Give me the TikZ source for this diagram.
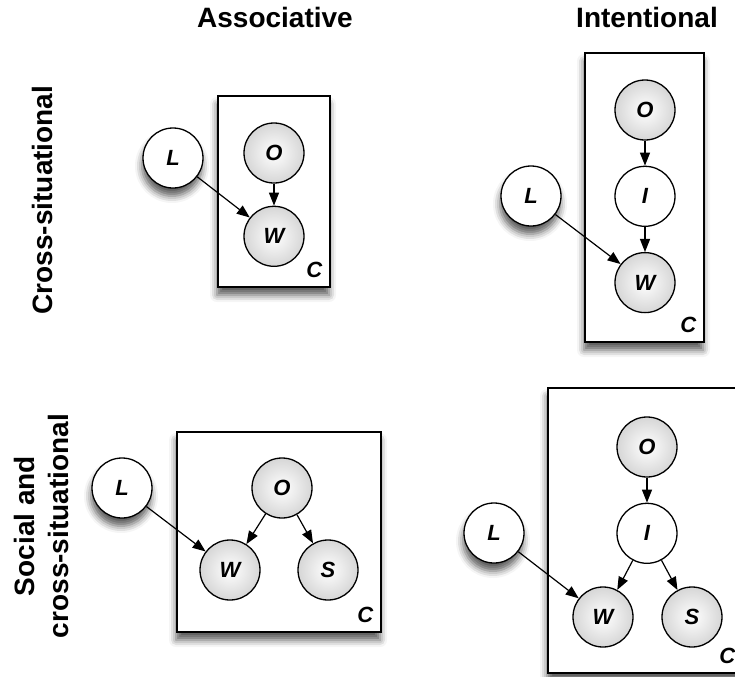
\documentclass[tikz,border=0pt]{standalone}
\usepackage{fontspec}
\setmainfont{Liberation Sans}
\usetikzlibrary{arrows.meta,positioning,shadows.blur}
\definecolor{cObs}{gray}{0.84}
\tikzset{
  node distance=12.5pt,
  shd/.style    ={blur shadow={shadow xshift=-0.5pt, shadow yshift=-4pt,
                  shadow blur radius=3.5pt, shadow opacity=65}},
  obs/.style    ={circle, draw=black, line width=0.65pt, minimum size=30pt, inner sep=0pt,
                  shading=radial, inner color=white, outer color=cObs,
                  font=\fontsize{11}{13}\selectfont\bfseries\itshape},
  hid/.style    ={circle, draw=black, fill=white, line width=0.65pt, minimum size=30pt,
                  inner sep=0pt, font=\fontsize{11}{13}\selectfont\bfseries\itshape},
  ext/.style    ={hid, shd},
  plate/.style  ={rectangle, draw=black, fill=white, line width=0.65pt, inner sep=0pt, shd},
  platelbl/.style={font=\fontsize{11}{13}\selectfont\bfseries\itshape, inner sep=0pt,
                  anchor=south east},
  fl/.style     ={-{Triangle[length=6.5pt,width=5pt]}, line width=0.6pt},
  head/.style   ={font=\fontsize{14}{17}\selectfont\bfseries, inner sep=0pt, align=center},
}

\begin{document}
\begin{tikzpicture}[x=0.5pt,y=-0.5pt]
  \useasboundingbox (0,0) rectangle (735,676);
  % column and row titles
  \node[head] (tAssoc) at (275,17) {Associative};
  \node[head] (tInt) at (647,17) {Intentional};
  \node[head,rotate=90] (tCross) at (42,200) {Cross-situational};
  \node[head,rotate=90] (tSocial) at (41,526) {Social and\\cross-situational};
  % plates
  \node[plate,minimum width=56pt,minimum height=95.5pt] (pA) at (274,191.5) {};
  \node[plate,minimum width=59.5pt,minimum height=144.5pt] (pB) at (644.5,197.5) {};
  \node[plate,minimum width=102pt,minimum height=100pt] (pC) at (279,532) {};
  \node[plate,minimum width=97.5pt,minimum height=142.5pt] (pD) at (645.5,530.5) {};
  \node[platelbl] (cA) at ([xshift=-4pt,yshift=5pt]pA.south east) {C};
  \node[platelbl] (cB) at ([xshift=-4pt,yshift=5pt]pB.south east) {C};
  \node[platelbl] (cC) at ([xshift=-4pt,yshift=5pt]pC.south east) {C};
  \node[platelbl] (cD) at ([xshift=-4pt,yshift=5pt]pD.south east) {C};
  % associative, cross-situational
  \node[obs] (oA) at (274,153) {O};
  \node[obs,below=11pt of oA] (wA) {W};
  \node[ext] (lA) at (173,158) {L};
  \draw[fl] (oA) -- (wA);
  \draw[fl] (lA) -- (wA);
  % intentional, cross-situational
  \node[obs] (oB) at (645,110) {O};
  \node[hid,below=of oB] (iB) {I};
  \node[obs,below=of iB] (wB) {W};
  \node[ext] (lB) at (531,196) {L};
  \draw[fl] (oB) -- (iB);
  \draw[fl] (iB) -- (wB);
  \draw[fl] (lB) -- (wB);
  % associative, social
  \node[obs] (oC) at (282,488) {O};
  \node[obs] (wC) at (230,570) {W};
  \node[obs] (sC) at (328,570) {S};
  \node[ext] (lC) at (122,488) {L};
  \draw[fl] (oC) -- (wC);
  \draw[fl] (oC) -- (sC);
  \draw[fl] (lC) -- (wC);
  % intentional, social
  \node[obs] (oD) at (647,447) {O};
  \node[hid,below=of oD] (iD) {I};
  \node[obs] (wD) at (603,617) {W};
  \node[obs] (sD) at (692,617) {S};
  \node[ext] (lD) at (494,533) {L};
  \draw[fl] (oD) -- (iD);
  \draw[fl] (iD) -- (wD);
  \draw[fl] (iD) -- (sD);
  \draw[fl] (lD) -- (wD);
\end{tikzpicture}
\end{document}
